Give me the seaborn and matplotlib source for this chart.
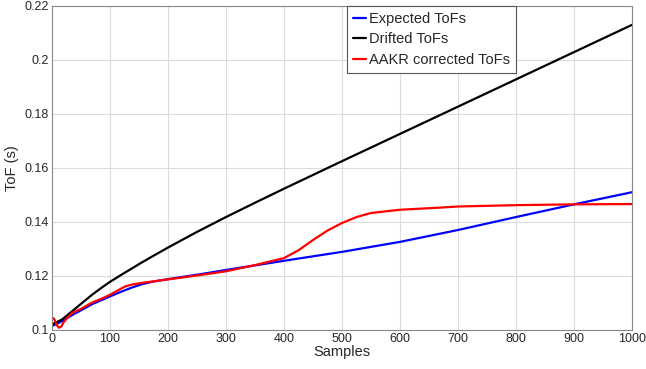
import numpy as np
import pandas as pd
import matplotlib
matplotlib.use("Agg")
import matplotlib.pyplot as plt
import seaborn as sns

# Data
exp_x = [0, 8, 17, 34, 52, 69, 85, 100, 120, 138, 155, 172, 200, 255, 300, 400, 500, 600, 700, 800, 900, 1000]
exp_y = [0.1015, 0.1022, 0.1032, 0.1054, 0.1075, 0.1095, 0.1110, 0.1124, 0.1142, 0.1157, 0.1169, 0.1178, 0.1188, 0.1206, 0.1222, 0.1256, 0.1289, 0.1326, 0.1370, 0.1418, 0.1465, 0.1510]

drift_x = [0, 17, 34, 52, 69, 86, 100, 121, 138, 155, 172, 200, 250, 300, 350, 400, 500, 600, 700, 800, 900, 1000]
drift_y = [0.1020, 0.1038, 0.1068, 0.1100, 0.1130, 0.1157, 0.1178, 0.1206, 0.1228, 0.1250, 0.1271, 0.1305, 0.1363, 0.1418, 0.1471, 0.1523, 0.1625, 0.1726, 0.1827, 0.1928, 0.2029, 0.2130]

aakr_x = [0, 4, 8, 12, 16, 20, 26, 34, 52, 69, 85, 100, 115, 126, 138, 155, 172, 200, 255, 300, 350, 400, 425, 450, 475, 500, 525, 550, 600, 670, 700, 800, 900, 1000]
aakr_y = [0.1046, 0.1040, 0.1018, 0.1008, 0.1012, 0.1028, 0.1044, 0.1062, 0.1080, 0.1101, 0.1115, 0.1130, 0.1148, 0.1161, 0.1168, 0.1174, 0.1179, 0.1187, 0.1203, 0.1217, 0.1240, 0.1266, 0.1295, 0.1333, 0.1368, 0.1396, 0.1418, 0.1433, 0.1445, 0.1453, 0.1457, 0.1462, 0.1465, 0.1466]

x_ticks = list(range(0, 1001, 100))
y_ticks = [0.1, 0.12, 0.14, 0.16, 0.18, 0.2, 0.22]

sns.set_style("white")
plt.rcParams['font.family'] = ['Liberation Sans', 'DejaVu Sans']

fig = plt.figure(figsize=(6.46, 3.69), dpi=100)
ax = fig.add_axes([0.0805, 0.106, 0.898, 0.878])

sns.lineplot(x=exp_x, y=exp_y, ax=ax, color='#0000ff', lw=1.6, label='Expected ToFs', sort=False)
sns.lineplot(x=drift_x, y=drift_y, ax=ax, color='#000000', lw=1.6, label='Drifted ToFs', sort=False)
sns.lineplot(x=aakr_x, y=aakr_y, ax=ax, color='#ff0000', lw=1.6, label='AAKR corrected ToFs', sort=False)

ax.set_xlim(0, 1000)
ax.set_ylim(0.1, 0.22)
ax.set_xticks(x_ticks)
ax.set_yticks(y_ticks)
ax.set_yticklabels(['0.1', '0.12', '0.14', '0.16', '0.18', '0.2', '0.22'])
ax.grid(True, color='#dcdcdc', lw=0.8)
for s in ax.spines.values():
    s.set_color('#888888')
    s.set_linewidth(0.8)
ax.tick_params(direction='in', length=3, labelsize=9, color='#888888', pad=2)
ax.set_xlabel('Samples', fontsize=10.5, labelpad=0)
ax.set_ylabel('ToF (s)', fontsize=10.5, labelpad=4)

leg = ax.legend(loc='upper left', bbox_to_anchor=(0.509, 1.0), fontsize=10.5,
                handlelength=0.9, handletextpad=0.2, borderpad=0.4,
                labelspacing=0.45, fancybox=False, framealpha=1, borderaxespad=0)
leg.get_frame().set_edgecolor('#555555')
leg.get_frame().set_linewidth(0.8)

fig.savefig('out.png', dpi=100)
